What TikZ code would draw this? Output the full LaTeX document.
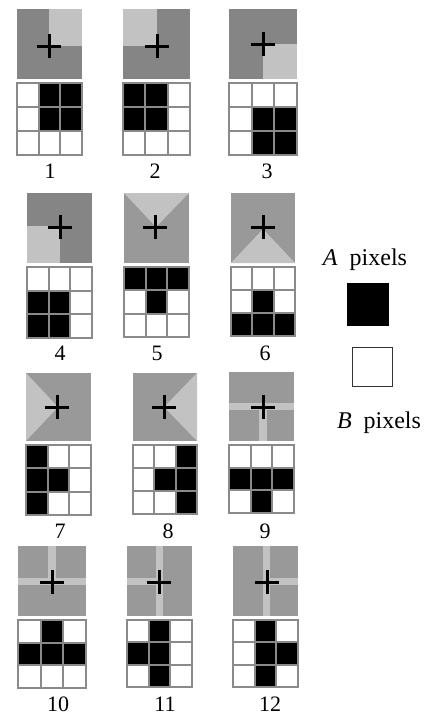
\documentclass[tikz,border=0pt]{standalone}
\usepackage{fontspec}
\setmainfont{Liberation Serif}
\definecolor{dkA}{HTML}{858585}
\definecolor{dkB}{HTML}{999999}
\definecolor{lt}{HTML}{C2C2C2}
\definecolor{gl}{HTML}{8A8A8A}
\newcommand\pixgrid[5]{%
  \fill[white] (#1,#2) rectangle (#3,#4);
  \foreach \c/\r in {#5} {
    \fill[black] ({#1+(\c-1)*(#3-#1)/3},{#2+(\r-1)*(#4-#2)/3}) rectangle ++({(#3-#1)/3},{(#4-#2)/3});
  }
  \foreach \i in {0,1,2,3} {
    \draw[gridline] ({#1+\i*(#3-#1)/3},#2) -- ({#1+\i*(#3-#1)/3},#4);
    \draw[gridline] (#1,{#2+\i*(#4-#2)/3}) -- (#3,{#2+\i*(#4-#2)/3});
  }
}
\newcommand\pcross[2]{%
  \draw[crossline] ({#1-12},#2) -- ({#1+12},#2);
  \draw[crossline] (#1,{#2-12}) -- (#1,{#2+12});
}
\tikzset{
  gridline/.style={draw=gl, line width=1.8pt, line cap=rect},
  crossline/.style={draw=black, line width=3pt},
  lbl/.style={font=\fontsize{22}{24}\selectfont, inner sep=0pt},
  legtxt/.style={font=\fontsize{24}{26}\selectfont, inner sep=0pt},
}
\begin{document}
\begin{tikzpicture}[x=1pt,y=-1pt]
\useasboundingbox (0,0) rectangle (433,718);
% ---- Row 1
% P1
\fill[dkA] (17,9) rectangle (82,79);
\fill[lt] (49,9) rectangle (82,46);
\pcross{49}{46}
\pixgrid{17}{83}{82}{155}{2/1,3/1,2/2,3/2}
\node[lbl] (l1) at (50,171) {1};
% P2
\fill[dkA] (123,9) rectangle (190,79);
\fill[lt] (123,9) rectangle (157,46);
\pcross{157}{46}
\pixgrid{123}{83}{190}{155}{1/1,2/1,1/2,2/2}
\node[lbl] (l2) at (155,171) {2};
% P3
\fill[dkA] (229,9) rectangle (297,79);
\fill[lt] (263,44) rectangle (297,79);
\pcross{263}{44}
\pixgrid{229}{83}{297}{155}{2/2,3/2,2/3,3/3}
\node[lbl] (l3) at (267,171) {3};
% ---- Row 2
% P4
\fill[dkA] (27,193) rectangle (92,263);
\fill[lt] (27,226) rectangle (60,263);
\pcross{60}{227}
\pixgrid{27}{267}{92}{338}{1/2,2/2,1/3,2/3}
\node[lbl] (l4) at (60,353) {4};
% P5
\fill[dkB] (124,193) rectangle (189,263);
\fill[lt] (124,193) -- (189,193) -- (156,227) -- cycle;
\pcross{155}{227}
\pixgrid{124}{267}{189}{337}{1/1,2/1,3/1,2/2}
\node[lbl] (l5) at (157,353) {5};
% P6
\fill[dkB] (231,193) rectangle (295,263);
\fill[lt] (231,263) -- (295,263) -- (263,229) -- cycle;
\pcross{263}{227}
\pixgrid{231}{267}{295}{336}{2/2,1/3,2/3,3/3}
\node[lbl] (l6) at (265,353) {6};
% ---- Row 3
% P7
\fill[dkB] (26,373) rectangle (91,441);
\fill[lt] (26,373) -- (26,441) -- (58,407) -- cycle;
\pcross{57}{407}
\pixgrid{26}{445}{91}{515}{1/1,1/2,1/3,2/2}
\node[lbl] (l7) at (60,531) {7};
% P8
\fill[dkB] (133,373) rectangle (197,441);
\fill[lt] (197,373) -- (197,441) -- (164,407) -- cycle;
\pcross{164}{407}
\pixgrid{133}{445}{197}{514}{3/1,3/2,3/3,2/2}
\node[lbl] (l8) at (168,531) {8};
% P9
\fill[dkB] (229,372) rectangle (294,441);
\fill[lt] (229,403) rectangle (294,410);
\fill[lt] (259,410) rectangle (267,441);
\pcross{263}{407}
\pixgrid{229}{445}{294}{513}{1/2,2/2,3/2,2/3}
\node[lbl] (l9) at (265,531) {9};
% ---- Row 4
% P10
\fill[dkB] (18,546) rectangle (86,616);
\fill[lt] (18,578) rectangle (86,585);
\fill[lt] (48,546) rectangle (56,578);
\pcross{52}{582}
\pixgrid{18}{620}{86}{688}{2/1,1/2,2/2,3/2}
\node[lbl] (l10) at (58,704) {10};
% P11
\fill[dkB] (127,546) rectangle (192,616);
\fill[lt] (156,546) rectangle (163,616);
\fill[lt] (127,578) rectangle (156,585);
\pcross{159}{582}
\pixgrid{127}{620}{192}{687}{2/1,2/2,2/3,1/2}
\node[lbl] (l11) at (165,704) {11};
% P12
\fill[dkB] (233,546) rectangle (298,616);
\fill[lt] (263,546) rectangle (270,616);
\fill[lt] (270,578) rectangle (298,585);
\pcross{267}{582}
\pixgrid{233}{620}{298}{687}{2/1,2/2,2/3,3/2}
\node[lbl] (l12) at (270,704) {12};
% ---- Legend
\node[legtxt] (la) at (365,260) {\textit{A}\hspace{12pt}pixels};
\node[draw=black, fill=black, line width=1pt, minimum width=41pt, minimum height=42pt, inner sep=0pt] (sqa) at (367.5,304) {};
\node[draw=black!80, fill=white, line width=1.6pt, minimum width=40pt, minimum height=39pt, inner sep=0pt] (sqb) at (372.5,367) {};
\node[legtxt] (lb) at (379,423) {\textit{B}\hspace{12pt}pixels};
\end{tikzpicture}
\end{document}
